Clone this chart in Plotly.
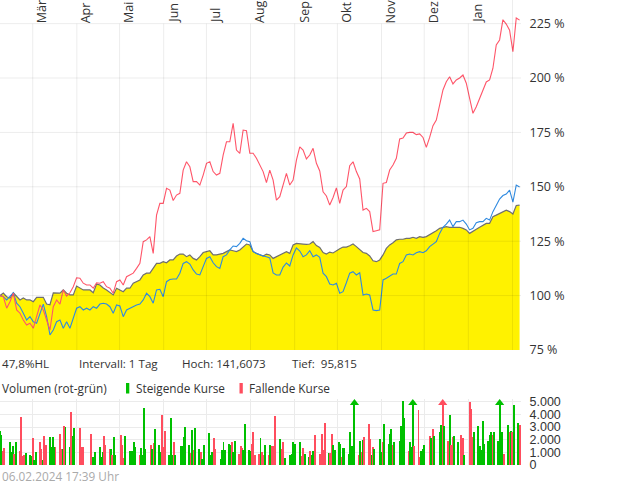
import numpy as np
import pandas as pd
import plotly.graph_objects as go

# ---------------- data ----------------
START = "2023-02-06"
END = "2024-02-06"
X_END = "2024-02-07"

# normalised performance (%), sampled on an even date grid
main_vals = [
    100.0, 101.2, 99.5, 98.9, 101.3, 99.5, 98.0, 98.9, 98.0, 98.0,
    97.2, 99.2, 99.2, 99.2, 96.1, 95.8, 101.3, 101.3, 101.1, 102.6,
    101.1, 100.3, 100.3, 104.4, 103.4, 102.6, 102.6, 102.6, 101.3, 105.3,
    104.9, 103.5, 102.6, 101.3, 100.3, 103.4, 102.6, 101.8, 103.4, 103.4,
    105.7, 106.4, 107.2, 109.5, 110.3, 110.3, 112.5, 114.8, 114.8, 115.6,
    115.1, 116.4, 116.4, 118.2, 119.1, 119.1, 117.9, 118.7, 117.1, 116.4,
    117.9, 119.8, 120.2, 120.6, 118.7, 118.7, 119.1, 119.4, 120.2, 121.0,
    120.6, 120.2, 121.0, 122.5, 123.7, 123.3, 120.2, 119.4, 118.7, 118.2,
    119.1, 118.7, 117.1, 117.9, 118.7, 119.7, 120.2, 119.4, 123.3, 124.0,
    123.7, 123.7, 123.5, 123.7, 124.8, 123.0, 122.1, 119.8, 119.1, 120.0,
    119.6, 120.7, 121.5, 122.3, 122.3, 122.9, 123.7, 122.5, 121.0, 119.8,
    119.4, 118.2, 116.0, 115.6, 116.4, 118.7, 121.7, 123.3, 124.3, 125.6,
    125.9, 125.9, 126.3, 126.3, 126.8, 126.3, 127.1, 126.8, 127.1, 127.9,
    128.9, 129.8, 130.9, 131.4, 131.7, 131.4, 131.4, 131.7, 131.4, 130.9,
    130.2, 128.6, 129.4, 130.5, 131.4, 132.5, 133.2, 133.2, 136.3, 137.0,
    137.8, 138.6, 139.3, 138.6, 137.5, 141.4, 141.6,
]
blue_vals = [
    100.0, 99.5, 98.0, 99.5, 101.3, 96.5, 94.9, 91.9, 88.8, 90.3,
    88.0, 87.3, 91.9, 96.1, 90.3, 81.9, 84.2, 88.0, 88.8, 85.0,
    88.0, 85.0, 89.6, 94.2, 94.9, 93.4, 94.2, 93.4, 94.9, 94.2,
    96.1, 96.5, 96.1, 94.9, 91.9, 95.7, 95.2, 90.3, 93.4, 94.2,
    94.9, 95.7, 96.1, 98.0, 101.1, 99.5, 96.5, 102.6, 102.9, 99.5,
    106.4, 107.4, 107.6, 107.6, 110.3, 114.8, 115.6, 114.5, 111.8, 109.9,
    109.5, 113.3, 117.1, 117.9, 115.1, 113.3, 112.5, 117.9, 118.7, 121.0,
    122.8, 122.5, 124.0, 126.3, 125.2, 124.8, 120.2, 119.4, 118.7, 118.2,
    117.9, 117.3, 110.4, 109.5, 109.5, 113.1, 115.0, 113.6, 118.7, 121.9,
    120.5, 117.9, 118.7, 120.6, 117.9, 118.7, 117.6, 110.3, 108.7, 105.3,
    104.9, 105.7, 101.1, 101.8, 105.9, 110.3, 111.0, 109.5, 110.5, 100.3,
    100.7, 100.3, 93.4, 93.1, 93.4, 107.2, 108.0, 109.0, 109.9, 109.9,
    114.8, 115.6, 118.7, 119.1, 118.7, 119.7, 120.2, 119.7, 120.6, 122.5,
    123.7, 124.8, 128.6, 131.4, 132.9, 134.7, 131.7, 134.0, 134.0, 134.7,
    132.9, 130.2, 130.9, 133.5, 134.0, 134.0, 135.5, 134.7, 138.6, 141.6,
    144.4, 146.0, 146.7, 148.5, 143.0, 150.8, 149.9,
]
red_vals = [
    100.0, 99.5, 94.2, 97.2, 101.1, 93.4, 91.9, 88.8, 86.5, 87.3,
    85.0, 90.3, 95.7, 93.4, 88.8, 84.2, 94.9, 98.0, 96.1, 102.6,
    99.8, 101.3, 104.1, 108.2, 108.0, 105.7, 104.9, 104.9, 103.4, 105.9,
    105.7, 106.4, 104.1, 103.4, 101.1, 106.4, 107.2, 104.9, 108.7, 109.5,
    110.3, 112.5, 114.8, 124.8, 125.6, 127.1, 119.4, 137.0, 142.4, 142.4,
    149.3, 148.5, 143.7, 146.2, 147.0, 157.7, 161.5, 159.2, 152.4, 152.4,
    150.8, 155.4, 160.8, 161.5, 157.0, 155.4, 156.2, 164.6, 170.7, 170.7,
    179.2, 166.9, 165.4, 176.1, 175.8, 165.4, 165.4, 163.1, 160.0, 157.0,
    151.9, 157.7, 153.1, 143.9, 145.5, 150.8, 156.2, 150.8, 153.1, 162.3,
    168.4, 166.9, 162.8, 164.6, 167.7, 160.8, 157.3, 147.7, 145.8, 141.6,
    145.1, 149.5, 142.4, 148.5, 150.1, 159.7, 161.5, 157.0, 153.6, 139.3,
    140.1, 138.6, 129.4, 129.8, 130.2, 151.6, 152.0, 157.7, 160.0, 163.1,
    172.0, 172.4, 174.7, 175.0, 175.0, 174.0, 174.3, 172.7, 168.1, 172.7,
    178.1, 180.7, 188.4, 194.5, 198.3, 200.6, 197.3, 199.1, 200.0, 201.4,
    197.6, 189.9, 183.8, 186.8, 190.7, 194.5, 198.2, 199.1, 204.5, 215.2,
    217.5, 226.8, 224.8, 222.0, 212.1, 227.6, 226.6,
]

# daily volume per business day (0 = no bar), direction g = rising, r = falling
vol_vals = [
    2760, 2420, 1180, 1370, 0, 1840, 1100, 1530, 920, 1840,
    1180, 3820, 710, 840, 1000, 790, 740, 2160, 395, 1100,
    1840, 1320, 395, 2320, 1580, 2240, 1450, 2240, 1450, 1450,
    2500, 1320, 1320, 3100, 3030, 1450, 4210, 2320, 2950, 0,
    2950, 1450, 1450, 0, 0, 0, 2500, 660, 395, 1050,
    1450, 660, 1050, 2320, 1580, 1320, 1320, 840, 2240, 840,
    0, 2420, 1580, 580, 2320, 1180, 660, 1180, 1890, 1450,
    840, 1370, 840, 4530, 1320, 0, 1580, 1320, 1790, 2900,
    1580, 1100, 4000, 1450, 2760, 840, 3740, 840, 1840, 790,
    0, 1530, 1530, 2240, 3030, 1580, 1000, 2840, 1260, 2950,
    1320, 1050, 530, 1580, 0, 2580, 840, 1100, 2160, 1320,
    0, 475, 1260, 1890, 1260, 1710, 1580, 1890, 1100, 1970,
    920, 1530, 1370, 1260, 3290, 1260, 1180, 1710, 2630, 840,
    920, 2160, 1100, 840, 1630, 840, 1580, 1530, 1530, 3890,
    0, 2100, 1320, 1890, 580, 0, 840, 920, 1840, 1710,
    0, 1890, 740, 1370, 920, 660, 1180, 790, 1180, 2420,
    0, 920, 2500, 1260, 3370, 1000, 1000, 2500, 1630, 1260,
    1890, 1710, 660, 1370, 1370, 920, 2680, 1530, 1450, 6500,
    840, 1970, 1050, 2050, 2240, 3290, 2110, 790, 1450, 1320,
    0, 2110, 1050, 1890, 3290, 1710, 2500, 2900, 1580, 1840,
    0, 1970, 3100, 5100, 3740, 1180, 1840, 1450, 6000, 1530,
    4420, 660, 1180, 1320, 1580, 0, 2320, 2160, 2900, 2320,
    0, 2680, 3160, 7000, 3100, 1970, 4000, 1630, 2240, 2320,
    1840, 0, 2420, 2160, 840, 0, 5000, 4470, 2240, 2680,
    3100, 1530, 1260, 3550, 1710, 1970, 2420, 2680, 2370, 2680,
    1970, 6200, 2680, 2680, 920, 3160, 2680, 2760, 2680, 4790,
    3370, 3210,
]
vol_dir = (
    "ggrr-gggrg" "rrrrgggrgg" "rrgrrggggr" "rrgrggrgg-" "rrr---rggg"
    "gggrrrgrgg" "-rrrgggggg" "rgggg-rgrg" "ggrrrgggrg" "-gggggrgrg"
    "grgg-gggrr" "-ggggggrgg" "rrrggggrrr" "rgrrgrgrrr" "-grrg-gggg"
    "-grrggrggr" "-rrrrgrrgg" "ggrggggggg" "rgrgrrrgrg" "-ggrggggrg"
    "-ggggrgggr" "rrggg-rgrg" "-ggrgrgrrg" "g-rrg-rrrg" "ggggggggrg"
    "ggggrgrgrg" "gr"
)

month_starts = ["2023-03-01", "2023-04-01", "2023-05-01", "2023-06-01", "2023-07-01",
                "2023-08-01", "2023-09-01", "2023-10-01", "2023-11-01", "2023-12-01",
                "2024-01-01", "2024-02-01"]
month_labels = ["Mär", "Apr", "Mai", "Jun", "Jul", "Aug", "Sep", "Okt", "Nov", "Dez", "Jan"]

pct_ticks = [75, 100, 125, 150, 175, 200, 225]
pct_labels = ["75 %", "100 %", "125 %", "150 %", "175 %", "200 %", "225 %"]
vol_ticks = [0, 1000, 2000, 3000, 4000, 5000]
vol_labels = ["0", "1.000", "2.000", "3.000", "4.000", "5.000"]

info_texts = ["47,8%HL", "Intervall: 1 Tag", "Hoch: 141,6073", "Tief:\u00a0 95,815"]
legend_texts = ["Volumen (rot-grün)", "Steigende Kurse", "Fallende Kurse"]
stamp_text = "06.02.2024 17:39 Uhr"

# ---------------- styling ----------------
W, H = 620, 483
PLOT_R = 521
YELLOW = "#fff200"
GRAY = "#6f6f6f"
BLUE = "#2f8ae0"
RED = "#ff5569"
GREEN_V = "#00c000"
RED_V = "#ff4d5e"
GRID = "rgba(0,0,0,0.075)"
FONT = "Open Sans"
TXT = "#333333"

Y_TOP = 75 + 350 * 0.4596  # pct at top edge
VOL_TOP = 5250
VOL_CLIP = 5150
ARROW_Y = 4900


def py(ypx):
    return 1 - ypx / H


def px(xpx):
    return xpx / PLOT_R


dates = pd.date_range(START, END, periods=len(main_vals))
vdates = pd.bdate_range(START, END)
vol = np.array(vol_vals, dtype=float)
dirs = np.array(list(vol_dir))
has = vol > 0

fig = go.Figure()
fig.add_trace(go.Scatter(x=dates, y=main_vals, mode="lines", fill="tozeroy",
                         fillcolor=YELLOW, line=dict(color=GRAY, width=1.2),
                         hoverinfo="skip", showlegend=False))
fig.add_trace(go.Scatter(x=dates, y=blue_vals, mode="lines",
                         line=dict(color=BLUE, width=1.1), showlegend=False))
fig.add_trace(go.Scatter(x=dates, y=red_vals, mode="lines",
                         line=dict(color=RED, width=1.1), showlegend=False))

bar_y = np.where(vol > VOL_CLIP, ARROW_Y, vol)
bar_c = np.where(dirs == "g", GREEN_V, RED_V)
fig.add_trace(go.Bar(x=vdates[has], y=bar_y[has], marker=dict(color=list(bar_c[has]), line=dict(width=0)),
                     width=0.68 * 86400000, xaxis="x2", yaxis="y2", showlegend=False))
big = vol > VOL_CLIP
fig.add_trace(go.Scatter(x=vdates[big], y=[ARROW_Y] * int(big.sum()), mode="markers",
                         marker=dict(symbol="triangle-up", size=8, color=list(bar_c[big])),
                         xaxis="x2", yaxis="y2", showlegend=False, cliponaxis=False))

shapes = []
for v in pct_ticks[1:]:
    shapes.append(dict(type="line", xref="paper", yref="y", x0=0, x1=1, y0=v, y1=v,
                       line=dict(color=GRID, width=1), layer="above"))
for i, m in enumerate(month_starts):
    top = pct_ticks[-1] if i < len(month_labels) else Y_TOP
    shapes.append(dict(type="line", xref="x", yref="y", x0=m, x1=m, y0=75, y1=top,
                       line=dict(color=GRID, width=1), layer="above"))
# legend swatches
shapes.append(dict(type="rect", xref="paper", yref="paper", x0=px(126), x1=px(129.3),
                   y0=py(393.5), y1=py(383), fillcolor=GREEN_V, line=dict(width=0)))
shapes.append(dict(type="rect", xref="paper", yref="paper", x0=px(239.5), x1=px(242.8),
                   y0=py(393.5), y1=py(383), fillcolor=RED_V, line=dict(width=0)))

ann = []
for m, lab in zip(month_starts, month_labels):
    ann.append(dict(x=pd.Timestamp(m) + pd.Timedelta(days=6.3), y=py(25), xref="x", yref="paper",
                    text=lab, textangle=-90, showarrow=False, xanchor="center", yanchor="bottom",
                    font=dict(family=FONT, size=12.5, color=TXT)))
for xp, t in zip([0, 77, 180, 290], info_texts):
    ann.append(dict(x=px(xp), y=py(363), xref="paper", yref="paper", text=t, showarrow=False,
                    xanchor="left", yanchor="middle", font=dict(family=FONT, size=11.6, color=TXT)))
for xp, t in zip([0, 134, 247], legend_texts):
    ann.append(dict(x=px(xp), y=py(388), xref="paper", yref="paper", text=t, showarrow=False,
                    xanchor="left", yanchor="middle", font=dict(family=FONT, size=11.8, color=TXT)))
ann.append(dict(x=0, y=py(476), xref="paper", yref="paper", text=stamp_text, showarrow=False,
                xanchor="left", yanchor="middle", font=dict(family=FONT, size=11.8, color="#aaaaaa")))

fig.update_layout(
    width=W, height=H, autosize=False,
    margin=dict(l=0, r=W - PLOT_R, t=0, b=0, pad=0, autoexpand=False),
    paper_bgcolor="white", plot_bgcolor="white",
    showlegend=False, bargap=0,
    xaxis=dict(range=[START, X_END], domain=[0, 1], anchor="y", showgrid=False,
               showticklabels=False, zeroline=False, showline=False, ticks=""),
    xaxis2=dict(range=[START, X_END], domain=[0, 1], anchor="y2", matches="x",
                tickvals=month_starts, showticklabels=False, showgrid=True,
                gridcolor="#ebebeb", gridwidth=1, zeroline=False, ticks=""),
    yaxis=dict(domain=[py(350), 1], range=[75, Y_TOP], side="right", anchor="x",
               tickvals=pct_ticks, ticktext=pct_labels, showgrid=False, zeroline=False,
               ticks="outside", ticklen=5, tickcolor="rgba(0,0,0,0)",
               tickfont=dict(family=FONT, size=12.5, color=TXT)),
    yaxis2=dict(domain=[py(465), py(465 - VOL_TOP * 63.3 / 5000)], range=[0, VOL_TOP],
                side="right", anchor="x2", tickvals=vol_ticks, ticktext=vol_labels,
                showgrid=True, gridcolor="#ebebeb", zeroline=False,
                ticks="outside", ticklen=5, tickcolor="rgba(0,0,0,0)",
                tickfont=dict(family="Liberation Sans", size=12.5, color=TXT)),
    shapes=shapes, annotations=ann,
)

fig.write_html("out.html")
